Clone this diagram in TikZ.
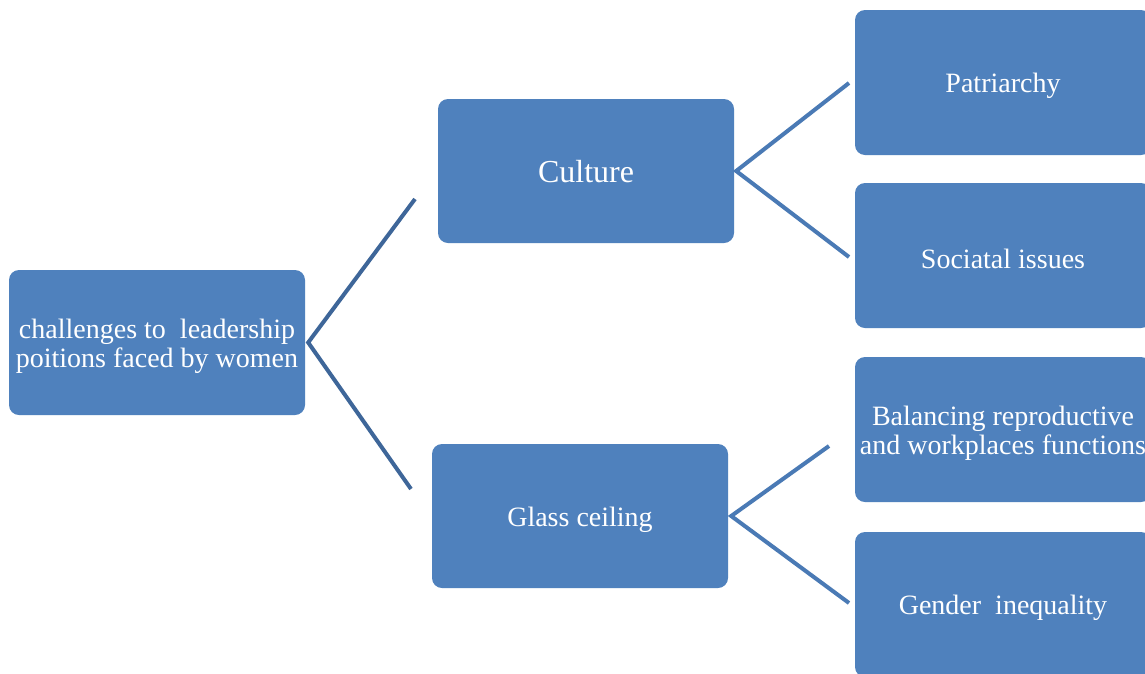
\documentclass[tikz,border=0pt]{standalone}
\usepackage{fontspec}
\setmainfont{Liberation Serif}
\definecolor{boxblue}{HTML}{4F81BD}
\definecolor{linedark}{HTML}{3E6699}
\definecolor{linemid}{HTML}{4A7AB5}
\begin{document}
\begin{tikzpicture}[x=1pt,y=-1pt,
  box/.style={fill=boxblue,draw=none,rounded corners=10pt,minimum width=296pt,minimum height=145pt,inner sep=0pt},
  boxtext/.style={text=white,align=center,inner sep=0pt,yshift=-3.5pt,font=\fontsize{28}{29}\selectfont},
  bigtext/.style={text=white,align=center,inner sep=0pt,yshift=-0.5pt,font=\fontsize{32}{34}\selectfont},
  conn/.style={line width=4pt,linemid,line join=miter},
  rootconn/.style={line width=4pt,linedark,line join=miter}]
\clip (0,0) rectangle (1145,673);
\fill[white] (0,0) rectangle (1145,673);
\node[box,label={[boxtext]center:challenges to \ leadership\\poitions faced by women}] (root) at (157,342.5) {};
\node[box,minimum height=144pt,label={[bigtext]center:Culture}] (culture) at (586,171) {};
\node[box,minimum height=144pt,label={[boxtext]center:Glass ceiling}] (glass) at (580,516) {};
\node[box,label={[boxtext]center:Patriarchy}] (pat) at (1003,82.5) {};
\node[box,label={[boxtext]center:Sociatal issues}] (soc) at (1003,255.5) {};
\node[box,label={[boxtext]center:Balancing reproductive\\and workplaces functions}] (bal) at (1003,429.5) {};
\node[box,label={[boxtext]center:Gender \ inequality}] (gen) at (1003,604.5) {};
\coordinate (r1) at (415,199);
\coordinate (r2) at (411,489);
\coordinate (c1) at (849,83);
\coordinate (c2) at (849,257);
\coordinate (g1) at (829,446);
\coordinate (g2) at (849,603);
\draw[rootconn] (r1) -- ([xshift=3pt]root.east) -- (r2);
\draw[conn] (c1) -- ([xshift=2pt]culture.east) -- (c2);
\draw[conn] (g1) -- ([xshift=3pt]glass.east) -- (g2);
\end{tikzpicture}
\end{document}
